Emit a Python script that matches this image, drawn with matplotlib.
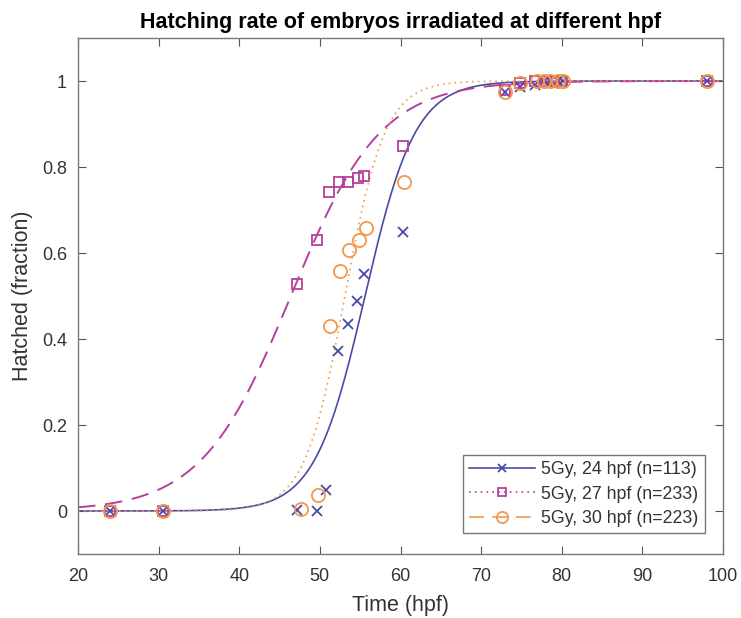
import numpy as np
import matplotlib
matplotlib.use("Agg")
import matplotlib.pyplot as plt

plt.rcParams['font.family'] = ['Liberation Sans', 'DejaVu Sans']

# ---- data ----
x24 = [24, 30.5, 47.2, 49.6, 50.8, 52.2, 53.5, 54.6, 55.5, 60.3, 72.9, 74.8, 76.7, 77.8, 78.6, 79.5, 80.2, 98]
y24 = [0, 0, 0.003, 0.0, 0.048, 0.372, 0.435, 0.488, 0.552, 0.648, 0.975, 0.985, 0.99, 1, 1, 1, 1, 1]

x27 = [24, 30.5, 47.2, 49.6, 51.1, 52.4, 53.5, 54.7, 55.5, 60.3, 72.9, 74.8, 76.7, 78.0, 79.0, 80.0, 98]
y27 = [0, 0, 0.529, 0.63, 0.742, 0.764, 0.765, 0.774, 0.778, 0.85, 0.98, 0.995, 1, 1, 1, 1, 1]

x30 = [24, 30.5, 47.7, 49.8, 51.3, 52.5, 53.6, 54.8, 55.7, 60.4, 72.9, 74.8, 76.9, 77.8, 78.6, 79.5, 80.2, 98]
y30 = [0, 0, 0.005, 0.038, 0.431, 0.558, 0.607, 0.63, 0.657, 0.764, 0.975, 0.995, 1, 1, 1, 1, 1, 1]

# fitted sigmoid parameters (midpoint, slope)
fit_mid = [55.6, 46.4, 53.1]
fit_slope = [0.32, 0.18, 0.40]

labels = ['5Gy, 24 hpf (n=113)', '5Gy, 27 hpf (n=233)', '5Gy, 30 hpf (n=223)']
colors = ['#4a4aa6', '#b5409a', '#f0994f']
markers = ['x', 's', 'o']
msizes = [6.5, 7.5, 9.5]
dotted = (0, (1, 2.5))
dashed = (0, (9, 5))
curve_styles = ['-', dashed, dotted]   # as drawn on the axes
legend_styles = ['-', dotted, dashed]  # as shown in the legend
lws = [1.2, 1.4, 1.2]

xs_data = [x24, x27, x30]
ys_data = [y24, y27, y30]

fig = plt.figure(figsize=(7.41, 6.18), dpi=100)
ax = fig.add_axes([78 / 741, 64 / 618, 645 / 741, 516 / 618])

xx = np.linspace(20, 100, 800)
handles = []
for i in range(3):
    yy = 1.0 / (1.0 + np.exp(-fit_slope[i] * (xx - fit_mid[i])))
    ax.plot(xx, yy, linestyle=curve_styles[i], color=colors[i], lw=lws[i], zorder=2)
    ax.plot(xs_data[i], ys_data[i], linestyle='none', marker=markers[i],
            markersize=msizes[i], markerfacecolor='none', markeredgecolor=colors[i],
            markeredgewidth=1.3, zorder=3)
    h, = ax.plot([], [], linestyle=legend_styles[i], color=colors[i], lw=1.2,
                 marker=markers[i], markersize=msizes[i] * 0.85, markerfacecolor='none',
                 markeredgecolor=colors[i], markeredgewidth=1.3)
    handles.append(h)

ax.set_xlim(20, 100)
ax.set_ylim(-0.1, 1.1)
ax.set_xticks(np.arange(20, 101, 10))
ax.set_yticks([0, 0.2, 0.4, 0.6, 0.8, 1])
ax.set_yticklabels(['0', '0.2', '0.4', '0.6', '0.8', '1'])

for sp in ax.spines.values():
    sp.set_color('#777777')
    sp.set_linewidth(1.0)
ax.tick_params(direction='in', length=6, width=0.8, color='#555555',
               labelsize=13, labelcolor='#333333', top=True, right=True)
ax.tick_params(axis='x', pad=10)
ax.tick_params(axis='y', pad=8)

ax.set_title('Hatching rate of embryos irradiated at different hpf',
             fontsize=15.5, fontweight='bold', pad=7)
ax.set_xlabel('Time (hpf)', fontsize=15.5, color='#333333', labelpad=7)
ax.set_ylabel('Hatched (fraction)', fontsize=15.5, color='#333333', labelpad=6)

leg = ax.legend(handles, labels, loc='lower right', bbox_to_anchor=(0.972, 0.04),
                fontsize=12.8, fancybox=False, framealpha=1, edgecolor='#777777',
                handlelength=3.7, borderaxespad=0.0, labelspacing=0.42,
                handletextpad=0.35, borderpad=0.35)
leg.get_frame().set_linewidth(1.0)
for t in leg.get_texts():
    t.set_color('#333333')

fig.savefig('out.png', dpi=100)
